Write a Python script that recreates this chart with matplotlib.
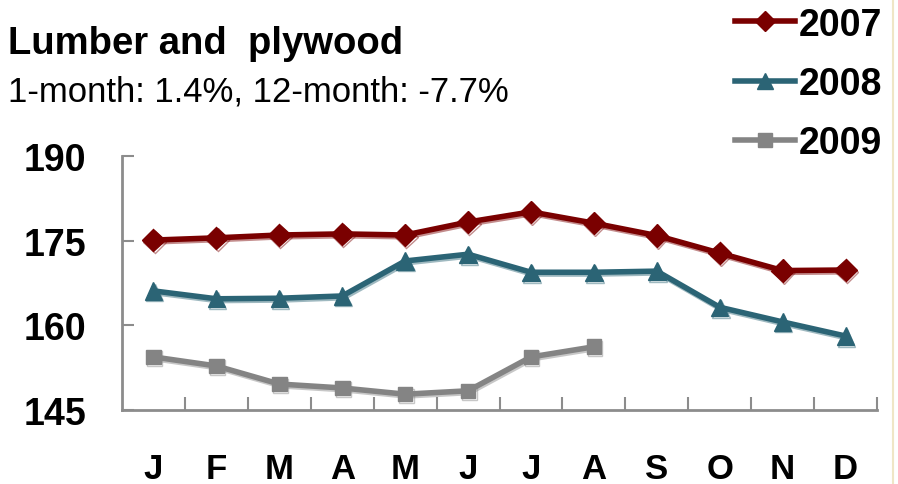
import matplotlib
matplotlib.use("Agg")
import matplotlib.pyplot as plt
import matplotlib.patheffects as pe
from matplotlib.lines import Line2D

plt.rcParams['font.family'] = ['Liberation Sans', 'DejaVu Sans']

months = ["J", "F", "M", "A", "M", "J", "J", "A", "S", "O", "N", "D"]
vals_2007 = [175.1, 175.5, 176.0, 176.2, 176.0, 178.3, 180.1, 178.1, 175.9, 172.8, 169.7, 169.8]
vals_2008 = [166.1, 164.7, 164.8, 165.2, 171.4, 172.6, 169.4, 169.4, 169.6, 163.2, 160.6, 158.1]
vals_2009 = [154.4, 152.8, 149.6, 148.9, 147.8, 148.4, 154.4, 156.2]
yticks = [145, 160, 175, 190]

c07 = "#7a0000"
c08 = "#2b6475"
c09 = "#848484"
axis_col = "#8c8c8c"

fig = plt.figure(figsize=(8.98, 4.85), dpi=100)
ax = fig.add_axes([0.1359, 0.1526, 0.8408, 0.5237])

series = [
    ("2007", vals_2007, c07, "D", 11.5),
    ("2008", vals_2008, c08, "^", 12.5),
    ("2009", vals_2009, c09, "s", 10.5),
]
handles = []
for name, vals, col, mk, ms in series:
    x = list(range(len(vals)))
    ax.plot(x, vals, color=col, lw=4, marker=mk, ms=ms,
            markeredgecolor=col, solid_joinstyle='round', zorder=3,
            path_effects=[pe.SimpleLineShadow(offset=(0.8, -1.3), shadow_color=col, alpha=0.45),
                          pe.Normal()])
    handles.append(Line2D([], [], color=col, lw=4, marker=mk, ms=ms - 1,
                          markeredgecolor=col, label=name))

ax.set_xlim(-0.5, 11.5)
ax.set_ylim(145, 190)
ax.set_yticks(yticks)
ax.set_yticklabels([str(v) for v in yticks], fontsize=27, fontweight='bold')
ax.tick_params(axis='y', direction='in', length=8.5, width=1.5, color=axis_col, pad=26)

ax.set_xticks([i + 0.5 for i in range(12)])
ax.set_xticklabels([])
ax.tick_params(axis='x', which='major', direction='in', length=9.5, width=1.5, color=axis_col)
ax.set_xticks(range(12), minor=True)
ax.set_xticklabels(months, minor=True, fontsize=25, fontweight='bold')
ax.tick_params(axis='x', which='minor', length=0, pad=30)

for s in ["top", "right"]:
    ax.spines[s].set_visible(False)
for s in ["left", "bottom"]:
    ax.spines[s].set_color(axis_col)
    ax.spines[s].set_linewidth(2)

fig.text(8 / 898, 1 - 54 / 485, "Lumber and  plywood", fontsize=27.5, fontweight='bold',
         va='baseline', ha='left')
fig.text(8 / 898, 1 - 101 / 485, "1-month: 1.4%, 12-month: -7.7%", fontsize=25,
         va='baseline', ha='left')

fig.legend(handles=handles, loc='upper right', bbox_to_anchor=(890 / 898, 1.0),
           frameon=False, prop={'size': 27, 'weight': 'bold'},
           handlelength=1.6, handletextpad=0.1, labelspacing=0.62,
           borderpad=0.2, borderaxespad=0)

fig.add_artist(Line2D([893 / 898, 893 / 898], [0, 1], color="#efe6c6", lw=1.5))

fig.savefig("out.png", dpi=100)
